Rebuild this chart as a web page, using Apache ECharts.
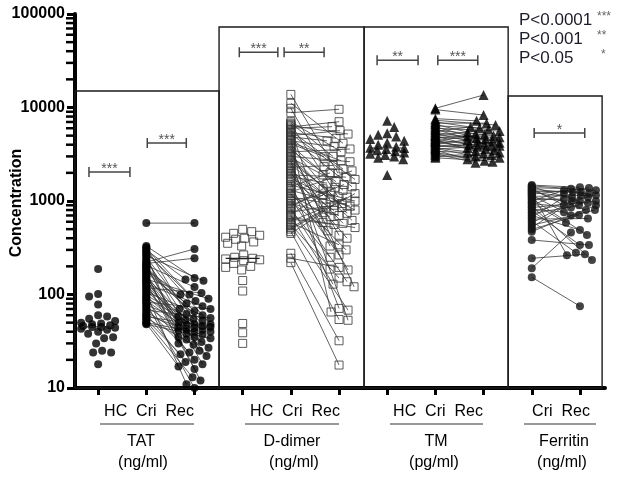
<!DOCTYPE html>
<html><head><meta charset="utf-8">
<script src="https://cdn.jsdelivr.net/npm/echarts@6/dist/echarts.min.js"></script>
<style>html,body{margin:0;padding:0;background:#fff}#c{width:624px;height:479px}</style>
</head><body><div id="c"></div>
<script>
// ---------- labels ----------
const yTicks = [10, 100, 1000, 10000, 100000];
const yAxisTitle = 'Concentration';
const minorTickValues = [20,30,40,50,60,70,80,90,200,300,400,500,600,700,800,900,2000,3000,4000,5000,6000,7000,8000,9000,20000,30000,40000,50000,60000,70000,80000,90000];
const groupNames = ['TAT', 'D-dimer', 'TM', 'Ferritin'];
const groupUnits = ['(ng/ml)', '(ng/ml)', '(pg/ml)', '(ng/ml)'];
const groupSubLabels = ['HC  Cri  Rec', 'HC  Cri  Rec', 'HC  Cri  Rec', 'Cri  Rec'];
const pLabels = ['P<0.0001', 'P<0.001', 'P<0.05'];
const pStars = ['***', '**', '*'];
const tickPositions = [0,1,2,3,4,5,6,7,8,9,10];

// ---------- data ----------
const tatHC = [187, 101, 95, 78, 60, 58, 55, 52, 50, 49, 48, 47, 46, 45, 45, 44, 43, 42, 40, 38, 35, 34, 30, 25, 24, 24, 18];
const tatCri = [580, 330, 320, 310, 300, 290, 280, 270, 260, 250, 240, 230, 222, 215, 210, 205, 200, 195, 190, 185, 180, 175, 170, 165, 160, 155, 150, 146, 142, 138, 134, 130, 126, 122, 118, 114, 110, 106, 102, 98, 95, 92, 89, 86, 83, 80, 77, 74, 71, 68, 65, 62, 60, 58, 56, 54, 52, 50, 49, 48];
const tatRec = [580, 150, 62, 100, 145, 48, 85, 35, 140, 55, 25, 70, 307, 244, 45, 120, 18, 66, 40, 100, 52, 30, 80, 12, 58, 44, 22, 90, 38, 50, 16, 75, 47, 33, 104, 42, 27, 60, 11, 46, 35, 53, 20, 43, 70, 10, 48, 31, 24, 56, 41, 19, 37, 45, 29, 23, 13, 40, 17, 34];

const ddHC = [498, 470, 451, 430, 410, 400, 390, 365, 353, 330, 265, 250, 244, 240, 235, 230, 215, 200, 195, 183, 141, 109, 49, 39, 30];
const ddCri = [13800, 11100, 9800, 8800, 7050, 6600, 6200, 6000, 5800, 5400, 5000, 4700, 4550, 4400, 4100, 3800, 3650, 3500, 3250, 3000, 2800, 2700, 2600, 2400, 2200, 2050, 1900, 1750, 1600, 1480, 1360, 1300, 1250, 1150, 1060, 980, 900, 860, 830, 760, 700, 640, 590, 540, 500, 470, 450, 276, 244, 219,
  6800, 6400, 5600, 5200, 4850, 4250, 3950, 3350, 3100, 2900, 2500, 2300, 2100, 1980, 1820, 1680, 1420, 1200, 1100, 1020, 940, 800, 720, 670, 610, 560, 520];
const ddRec = [1980, 4140, 2330, 9570, 3370, 1110, 7050, 6240, 590, 4690, 5660, 1420, 65, 3810, 2980, 738, 121, 1610, 430, 2630, 940, 53, 1250, 330, 577, 183, 1800, 800, 71, 1000, 265, 880, 2100, 680, 137, 480, 1500, 1350, 187, 900, 129, 560, 340, 68, 1200, 54, 750, 32, 195, 17.6,
  3000, 5200, 2200, 1700, 4400, 2700, 1300, 3600, 850, 1900, 620, 2400, 1050, 400, 1550, 790, 2000, 300, 960, 1150, 700, 250, 1400, 520, 860, 150, 1100];

const tmHC = [7200, 6200, 5300, 5100, 4900, 4600, 4400, 4200, 4000, 3800, 3700, 3680, 3600, 3500, 3400, 3300, 3200, 3100, 3000, 2900, 2800, 1900];
const tmCri = [9800, 9500, 7600, 7300, 7000, 6800, 6600, 6400, 6200, 6000, 5850, 5700, 5550, 5400, 5250, 5100, 5000, 4950, 4800, 4700, 4600, 4500, 4400, 4350, 4300, 4200, 4100, 4000, 3900, 3800, 3700, 3650, 3600, 3500, 3400, 3300, 3200, 3100, 3000, 2900];
const tmRec = [13600, 8300, 7200, 6500, 5800, 6800, 5200, 6000, 4700, 5600, 4300, 5000, 6200, 4600, 3900, 5400, 4800, 3600, 4400, 5100, 4000, 3400, 4900, 3300, 4200, 3800, 4500, 3500, 3700, 4100, 3200, 3000, 3900, 2790, 3300, 2630, 2570, 3100, 2900, 2700];

const ferCri = [1480, 1450, 1420, 1390, 1360, 1330, 1300, 1270, 1240, 1210, 1180, 1150, 1120, 1090, 1060, 1030, 1000, 970, 940, 910, 880, 850, 820, 790, 760, 730, 700, 670, 640, 610, 580, 550, 520, 495, 470, 383, 244, 191, 153];
const ferRec = [1400, 1300, 1000, 1350, 900, 1200, 800, 1250, 1100, 263, 1380, 700, 1150, 950, 432, 1050, 1300, 586, 850, 1200, 234, 1000, 760, 338, 1100, 900, 490, 1250, 650, 280, 1000, 800, 1150, 708, 900, 338, 269, 460, 75];

// significance brackets: [x from, x to, level, stars]
const brackets = [[-0.19, 0.66, 2040, '***'], [1.02, 1.83, 4170, '***'], [2.93, 3.73, 39000, '***'], [3.86, 4.69, 39000, '**'], [5.79, 6.64, 32000, '**'], [7.05, 7.88, 32000, '***'], [9.05, 10.10, 5340, '*']];
// panel frames: [x from, x to, top level]
const panels = [[-0.48, 2.51, 15000], [2.51, 5.52, 72600], [5.52, 8.51, 72600], [8.51, 10.46, 13270]];

// ---------- layout helpers ----------
const X_MIN = -0.48, X_MAX = 10.52;
const GRID = {left: 75, right: 19, top: 14, bottom: 91, containLabel: false, outerBoundsMode: 'none'};
const PX_X = (624 - GRID.left - GRID.right) / (X_MAX - X_MIN);
const PX_DEC = (479 - GRID.top - GRID.bottom) / 4;

function swarm(vals, d, maxOff) {
  const idx = vals.map((v, i) => i).sort((a, b) => vals[b] - vals[a]);
  const placed = [];
  const off = new Array(vals.length).fill(0);
  for (const i of idx) {
    const y = Math.log10(vals[i]) * PX_DEC;
    let best = 0, bestScore = Infinity;
    const order = placed.length % 2 ? [1, -1] : [-1, 1];
    outer:
    for (let k = 0; k <= maxOff; k += 1) {
      for (const s of (k === 0 ? [1] : order)) {
        const x = k * s;
        let score = 0;
        for (const p of placed) {
          const dist = Math.hypot(p.x - x, p.y - y);
          if (dist < d) score += d - dist;
        }
        if (score < bestScore) { bestScore = score; best = x; }
        if (score === 0) break outer;
      }
    }
    placed.push({x: best, y});
    off[i] = best / PX_X;
  }
  return off;
}
function median(a) {
  const s = a.slice().sort((x, y) => x - y);
  const n = s.length;
  return n % 2 ? s[(n - 1) / 2] : (s[n / 2 - 1] + s[n / 2]) / 2;
}

const groups = [
  {hc: tatHC, cri: tatCri, rec: tatRec, pos: 0, symbol: 'circle', size: 8, style: {color: '#000'}},
  {hc: ddHC, cri: ddCri, rec: ddRec, pos: 3, symbol: 'rect', size: 8, style: {color: 'rgba(255,255,255,0)', borderColor: '#333', borderWidth: 1}},
  {hc: tmHC, cri: tmCri, rec: tmRec, pos: 6, symbol: 'triangle', size: 10, style: {color: '#000'}},
  {hc: null, cri: ferCri, rec: ferRec, pos: 8, symbol: 'circle', size: 8, style: {color: '#151515'}}
];

const series = [];
series.push({
  type: 'custom', z: 1, silent: true, clip: false,
  encode: {x: [0, 1], y: 2},
  data: panels,
  renderItem(params, api) {
    const a = api.coord([api.value(0), api.value(2)]);
    const b = api.coord([api.value(1), 10]);
    return {type: 'rect', shape: {x: a[0], y: a[1], width: b[0] - a[0], height: b[1] - a[1]},
      style: {fill: 'none', stroke: '#1a1a1a', lineWidth: 1.4}};
  }
});

const medianItems = [];
groups.forEach((g, gi) => {
  const mk = (data) => ({
    type: 'scatter', z: 4, clip: false, silent: true,
    symbol: g.symbol, symbolSize: g.size, itemStyle: g.style, data
  });
  if (g.hc) {
    const off = swarm(g.hc, 9, 17);
    series.push(mk(g.hc.map((v, i) => [g.pos + off[i], v])));
    medianItems.push([g.pos, median(g.hc)]);
  }
  const criPos = g.pos + 1, recPos = g.pos + 2;
  const roff = swarm(g.rec, 8.5, 16);
  series.push({
    type: 'custom', z: 3, silent: true, clip: false,
    encode: {x: [0, 2], y: [1, 3]},
    data: g.cri.map((v, i) => [criPos, v, recPos + roff[i], g.rec[i]]),
    renderItem(params, api) {
      const a = api.coord([api.value(0), api.value(1)]);
      const b = api.coord([api.value(2), api.value(3)]);
      return {type: 'line', shape: {x1: a[0], y1: a[1], x2: b[0], y2: b[1]},
        style: {stroke: '#3a3a3a', lineWidth: 0.8}};
    }
  });
  series.push(mk(g.cri.map(v => [criPos, v])));
  series.push(mk(g.rec.map((v, i) => [recPos + roff[i], v])));
  if (gi === 0) medianItems.push([recPos, median(g.rec)]);
});
series.push({
  type: 'custom', z: 6, silent: true, clip: false,
  encode: {x: 0, y: 1},
  data: medianItems,
  renderItem(params, api) {
    const p = api.coord([api.value(0), api.value(1)]);
    return {type: 'line', shape: {x1: p[0] - 17, y1: p[1], x2: p[0] + 17, y2: p[1]},
      style: {stroke: '#222', lineWidth: 1.2}};
  }
});
series.push({
  type: 'custom', z: 6, silent: true, clip: false,
  encode: {x: [0, 1], y: 2},
  data: brackets.map(b => [b[0], b[1], b[2]]),
  renderItem(params, api) {
    const a = api.coord([api.value(0), api.value(2)]);
    const b = api.coord([api.value(1), api.value(2)]);
    const st = {stroke: '#444', lineWidth: 1.5};
    return {type: 'group', children: [
      {type: 'line', shape: {x1: a[0], y1: a[1], x2: b[0], y2: b[1]}, style: st},
      {type: 'line', shape: {x1: a[0], y1: a[1] - 5, x2: a[0], y2: a[1] + 5}, style: st},
      {type: 'line', shape: {x1: b[0], y1: b[1] - 5, x2: b[0], y2: b[1] + 5}, style: st},
      {type: 'text', style: {text: brackets[params.dataIndex][3], x: (a[0] + b[0]) / 2, y: a[1] - 3,
        align: 'center', textAlign: 'center', verticalAlign: 'middle', textVerticalAlign: 'middle',
        fontSize: 14, fontFamily: 'Liberation Sans, Arial, sans-serif', fill: '#555'}}
    ]};
  }
});

// ---------- graphic texts ----------
const FONT = '"Liberation Sans", Arial, sans-serif';
const subX = [149, 295, 438, 561];
const underline = [[100, 194], [245, 339], [390, 483], [524, 596]];
const nameX = [141, 292, 436, 564];
const unitX = [143, 294, 434, 562];
const graphic = [];
function txt(t, x, y, size, fill, align, weight) {
  return {type: 'text', x, y, silent: true, style: {text: t, fontSize: size, fontFamily: FONT, fontWeight: weight || 'normal', fill,
    align: align || 'center', textAlign: align || 'center', verticalAlign: 'middle', textVerticalAlign: 'middle'}};
}
groupNames.forEach((n, i) => {
  graphic.push(txt(groupSubLabels[i], subX[i], 412, 16, '#000'));
  graphic.push({type: 'line', silent: true, shape: {x1: underline[i][0], y1: 424, x2: underline[i][1], y2: 424}, style: {stroke: '#333', lineWidth: 1.2}});
  graphic.push(txt(n, nameX[i], 442, 16, '#000'));
  graphic.push(txt(groupUnits[i], unitX[i], 463, 16, '#000'));
});
pLabels.forEach((p, i) => {
  graphic.push(txt(p, 519, 20 + i * 19, 17, '#1c1c28', 'left'));
  graphic.push(txt(pStars[i], i === 2 ? 601 : 597, 17 + i * 19, 12, '#666', 'left'));
});
const title = txt(yAxisTitle, 0, 0, 16, '#000', 'center', 'bold');
title.x = 17; title.y = 203; title.rotation = Math.PI / 2;
graphic.push(title);

const chart = echarts.init(document.getElementById('c'), null, {renderer: 'canvas'});
const option = {
  animation: false,
  backgroundColor: '#fff',
  grid: GRID,
  xAxis: {
    type: 'value', min: X_MIN, max: X_MAX,
    axisLine: {show: true, onZero: false, lineStyle: {color: '#000', width: 4}},
    axisTick: {show: true, customValues: tickPositions, length: 7, inside: false, lineStyle: {color: '#000', width: 3}},
    axisLabel: {show: true, customValues: tickPositions, formatter: () => ''},
    splitLine: {show: false}
  },
  yAxis: {
    type: 'log', logBase: 10, min: 10, max: 100000,
    axisLine: {show: true, onZero: false, lineStyle: {color: '#000', width: 4}},
    axisTick: {show: true, length: 8, lineStyle: {color: '#000', width: 3}},
    axisLabel: {show: true, margin: 10, color: '#000', fontWeight: 'bold', fontSize: 16, fontFamily: FONT,
      formatter: v => String(yTicks.reduce((b, t) => Math.abs(t - v) < Math.abs(b - v) ? t : b, yTicks[0]))},
    splitLine: {show: false}
  },
  series,
  graphic
};
chart.setOption(option);
// minor ticks of the log axis, placed through the axis scale (geometric fallback)
function axisPoint(v) {
  let p = null;
  try { p = chart.convertToPixel({gridIndex: 0}, [X_MIN, v]); } catch (e) { p = null; }
  if (p && isFinite(p[0]) && isFinite(p[1])) return p;
  return [GRID.left, GRID.top + (Math.log10(100000) - Math.log10(v)) * PX_DEC];
}
minorTickValues.forEach(v => {
  const p = axisPoint(v);
  graphic.push({type: 'rect', silent: true, z: 100, shape: {x: p[0] - 9, y: p[1] - 1.25, width: 8, height: 2.5},
    style: {fill: '#000'}});
});
chart.setOption({graphic: graphic});
</script></body></html>
